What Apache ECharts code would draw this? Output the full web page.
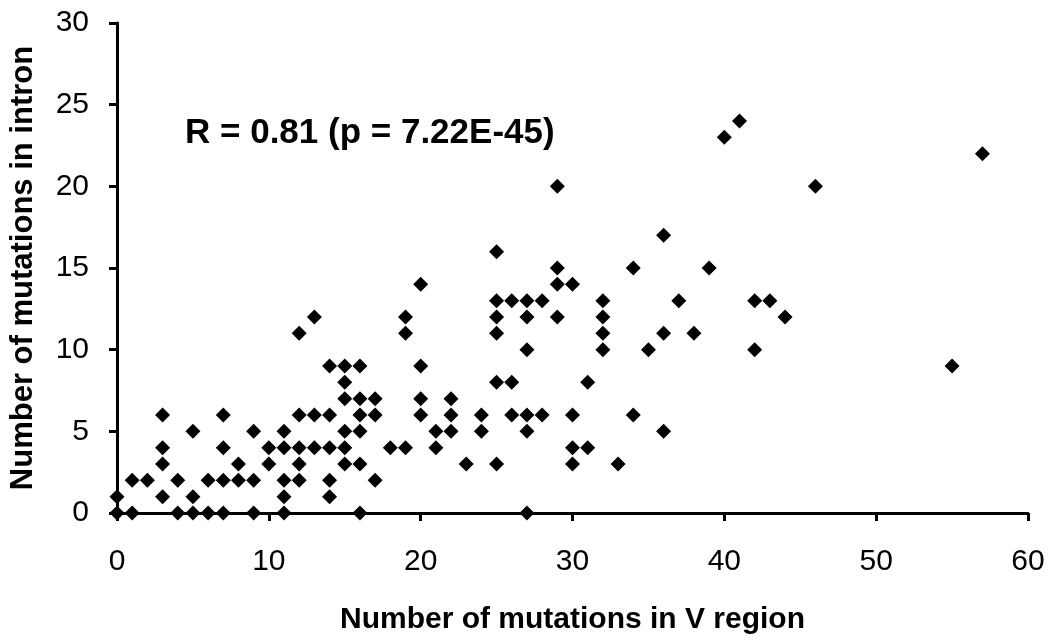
<!DOCTYPE html>
<html>
<head>
<meta charset="utf-8">
<title>V region vs intron mutations</title>
<script src="https://cdn.jsdelivr.net/npm/echarts@6/dist/echarts.min.js"></script>
<style>
  html, body { margin: 0; padding: 0; background: #ffffff; }
  #chart { width: 1050px; height: 640px; }
</style>
</head>
<body>
<div id="chart"></div>
<script>
// Mutation counts per sequence: V region (x) paired with intron (y).
const vRegionMutations = [
  0, 1, 4, 5, 6, 7, 9, 11, 16, 27,
  0, 3, 5, 11, 14,
  1, 2, 4, 6, 7, 8, 9, 11, 12, 14, 17,
  3, 8, 10, 12, 15, 16, 23, 25, 30, 33,
  3, 7, 10, 11, 12, 13, 14, 15, 18, 19, 21, 30, 31,
  5, 9, 11, 15, 16, 21, 22, 24, 27, 36,
  3, 7, 12, 13, 14, 16, 17, 20, 22, 24, 26, 27, 28, 30, 34,
  15, 16, 17, 20, 22,
  15, 25, 26, 31,
  14, 15, 16, 20, 55,
  27, 32, 35, 42,
  12, 19, 25, 32, 36, 38,
  13, 19, 25, 27, 29, 32, 44,
  25, 26, 27, 28, 32, 37, 42, 43,
  20, 29, 30,
  29, 34, 39,
  25, 36, 29, 46, 57, 40, 41
];
const intronMutations = [
  0, 0, 0, 0, 0, 0, 0, 0, 0, 0,
  1, 1, 1, 1, 1,
  2, 2, 2, 2, 2, 2, 2, 2, 2, 2, 2,
  3, 3, 3, 3, 3, 3, 3, 3, 3, 3,
  4, 4, 4, 4, 4, 4, 4, 4, 4, 4, 4, 4, 4,
  5, 5, 5, 5, 5, 5, 5, 5, 5, 5,
  6, 6, 6, 6, 6, 6, 6, 6, 6, 6, 6, 6, 6, 6, 6,
  7, 7, 7, 7, 7,
  8, 8, 8, 8,
  9, 9, 9, 9, 9,
  10, 10, 10, 10,
  11, 11, 11, 11, 11, 11,
  12, 12, 12, 12, 12, 12, 12,
  13, 13, 13, 13, 13, 13, 13, 13,
  14, 14, 14,
  15, 15, 15,
  16, 17, 20, 20, 22, 23, 24
];

const xAxisTitle = 'Number of mutations in V region';
const yAxisTitle = 'Number of mutations in intron';
const correlationText = 'R = 0.81 (p = 7.22E-45)';

const points = vRegionMutations.map((v, i) => [v, intronMutations[i]]);

const chart = echarts.init(document.getElementById('chart'), null, { renderer: 'canvas' });

const axisCommon = {
  axisLine: { show: true, lineStyle: { color: '#000', width: 3 } },
  axisTick: { show: true, inside: false, length: 8, lineStyle: { color: '#000', width: 3 } },
  splitLine: { show: false },
  axisLabel: {
    color: '#000',
    fontFamily: 'Liberation Sans, Arial, sans-serif',
    fontSize: 30
  },
  nameTextStyle: {
    color: '#000',
    fontFamily: 'Liberation Sans, Arial, sans-serif',
    fontWeight: 'bold',
    fontSize: 30
  }
};

chart.setOption({
  animation: false,
  backgroundColor: '#ffffff',
  grid: { left: 116, right: 22, top: 23, bottom: 126, containLabel: false },
  xAxis: Object.assign({}, axisCommon, {
    type: 'value',
    min: 0,
    max: 60,
    interval: 10,
    name: xAxisTitle,
    nameLocation: 'middle',
    nameGap: 92,
    axisLabel: Object.assign({}, axisCommon.axisLabel, { margin: 34 })
  }),
  yAxis: Object.assign({}, axisCommon, {
    type: 'value',
    min: 0,
    max: 30,
    interval: 5,
    name: yAxisTitle,
    nameLocation: 'middle',
    nameGap: 78,
    nameTextStyle: Object.assign({}, axisCommon.nameTextStyle, { fontSize: 31 }),
    axisLabel: Object.assign({}, axisCommon.axisLabel, { margin: 28 })
  }),
  graphic: [{
    type: 'text',
    left: 185,
    top: 116,
    style: {
      text: correlationText,
      fill: '#000',
      fontFamily: 'Liberation Sans, Arial, sans-serif',
      fontWeight: 'bold',
      fontSize: 35
    }
  }],
  series: [{
    type: 'scatter',
    data: points,
    symbol: 'diamond',
    symbolSize: 15,
    itemStyle: { color: '#000', opacity: 1 },
    z: 5
  }]
});
</script>
</body>
</html>
